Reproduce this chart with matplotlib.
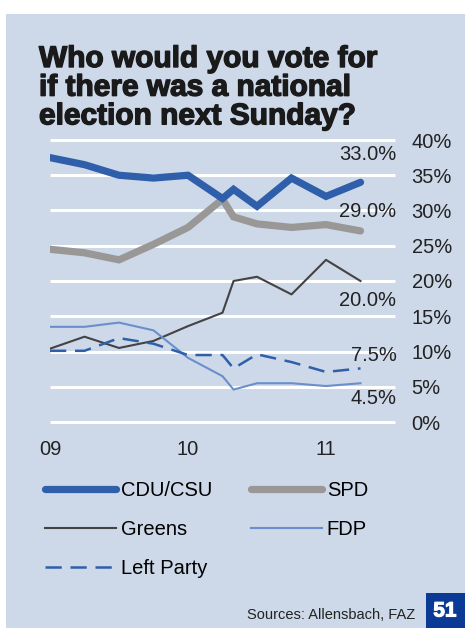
import matplotlib

matplotlib.use("Agg")
import matplotlib.pyplot as plt
import matplotlib.patheffects as pe
from matplotlib.patches import Rectangle

plt.rcParams.update({
    "font.family": ["Liberation Sans", "DejaVu Sans"],
})

# survey dates as fractional years (09 = 2009)
dates = [2009.0, 2009.25, 2009.5, 2009.75, 2010.0, 2010.25, 2010.33,
         2010.5, 2010.75, 2011.0, 2011.25]

cdu = [37.5, 36.5, 35.0, 34.6, 35.0, 31.7, 33.0, 30.6, 34.6, 32.0, 34.0]
spd = [24.5, 24.0, 23.0, 25.2, 27.6, 31.6, 29.1, 28.1, 27.6, 28.0, 27.1]
greens = [10.4, 12.1, 10.5, 11.5, 13.6, 15.5, 20.0, 20.6, 18.1, 23.0, 20.0]
fdp = [13.5, 13.5, 14.1, 13.0, 9.1, 6.5, 4.6, 5.5, 5.5, 5.1, 5.5]
left = [10.1, 10.1, 11.9, 11.1, 9.5, 9.5, 7.6, 9.6, 8.5, 7.1, 7.6]

latest = ["33.0%", "29.0%", "20.0%", "7.5%", "4.5%"]
latest_y = [37.9, 29.8, 17.3, 9.5, 3.3]

year_ticks = [2009, 2010, 2011]
year_labels = ["09", "10", "11"]
pct_ticks = [0, 5, 10, 15, 20, 25, 30, 35, 40]

BG = "#cdd8e8"
BLUE = "#2f5faa"
GREY = "#999896"
DARK = "#434343"
LIGHTBLUE = "#6a8fcc"
INK = "#1a1a1a"

W, H = 465, 628
fig = plt.figure(figsize=(W / 100, H / 100), dpi=100)
fig.patch.set_facecolor("white")
fig.add_artist(Rectangle((6 / W, 0), 1 - 6 / W, 1 - 14 / H, transform=fig.transFigure,
                         facecolor=BG, edgecolor="none", zorder=0))

# heavy headline: bold face thickened with a same-colour stroke
fig.text(39 / W, 1 - 45 / H,
         "Who would you vote for\nif there was a national\nelection next Sunday?",
         ha="left", va="top", fontsize=21.5, fontweight="bold", color=INK,
         linespacing=1.03,
         path_effects=[pe.withStroke(linewidth=1.0, foreground=INK)])

ax = fig.add_axes([50 / W, 1 - 422 / H, 345 / W, 282 / H])
ax.set_facecolor("none")
for s in ax.spines.values():
    s.set_visible(False)
ax.set_xlim(2009, 2011.5)
ax.set_ylim(0, 40)

ax.hlines(pct_ticks, 2009, 2011.5, colors="white", linewidth=2.2, clip_on=False, zorder=1)

ax.plot(dates, cdu, color=BLUE, linewidth=5.2, solid_capstyle="round",
        solid_joinstyle="miter", label="CDU/CSU", zorder=5)
ax.plot(dates, spd, color=GREY, linewidth=5.2, solid_capstyle="round",
        solid_joinstyle="miter", label="SPD", zorder=4)
ax.plot(dates, greens, color=DARK, linewidth=1.5, label="Greens", zorder=3)
ax.plot(dates, fdp, color=LIGHTBLUE, linewidth=1.5, label="FDP", zorder=3)
ax.plot(dates, left, color=BLUE, linewidth=1.8, dashes=(6.5, 3.5), label="Left Party", zorder=3)

for txt, y in zip(latest, latest_y):
    ax.text(2011.51, y, txt, ha="right", va="center", fontsize=14.5, color="#222222")

ax.yaxis.tick_right()
ax.set_yticks(pct_ticks)
ax.set_yticklabels([f"{v}%" for v in pct_ticks])
ax.set_xticks(year_ticks)
ax.set_xticklabels(year_labels)
ax.tick_params(axis="y", length=0, pad=12, labelsize=14.5, labelcolor="#222222")
ax.tick_params(axis="x", length=0, pad=13, labelsize=14.5, labelcolor="#222222")
for lab in ax.get_yticklabels():
    lab.set_horizontalalignment("left")

handles, labels = ax.get_legend_handles_labels()
order = [0, 2, 4, 1, 3]
fig.legend([handles[i] for i in order], [labels[i] for i in order],
           loc="upper left", bbox_to_anchor=(27 / W, 1 - 463 / H), ncol=2,
           frameon=False, fontsize=14.5, handlelength=3.5, handletextpad=0.25,
           labelspacing=1.0, columnspacing=1.95)

fig.text(415 / W, 1 - 615 / H, "Sources: Allensbach, FAZ", ha="right", va="center",
         fontsize=10.5, color="#222222")
fig.add_artist(Rectangle((426 / W, 0), 1 - 426 / W, 35 / H, transform=fig.transFigure,
                         facecolor="#0a3a96", edgecolor="none", zorder=2))
fig.text(445 / W, 1 - 611 / H, "51", ha="center", va="center", fontsize=15,
         fontweight="bold", color="white", zorder=3,
         path_effects=[pe.withStroke(linewidth=0.8, foreground="white")])

fig.savefig("out.png", dpi=100)
